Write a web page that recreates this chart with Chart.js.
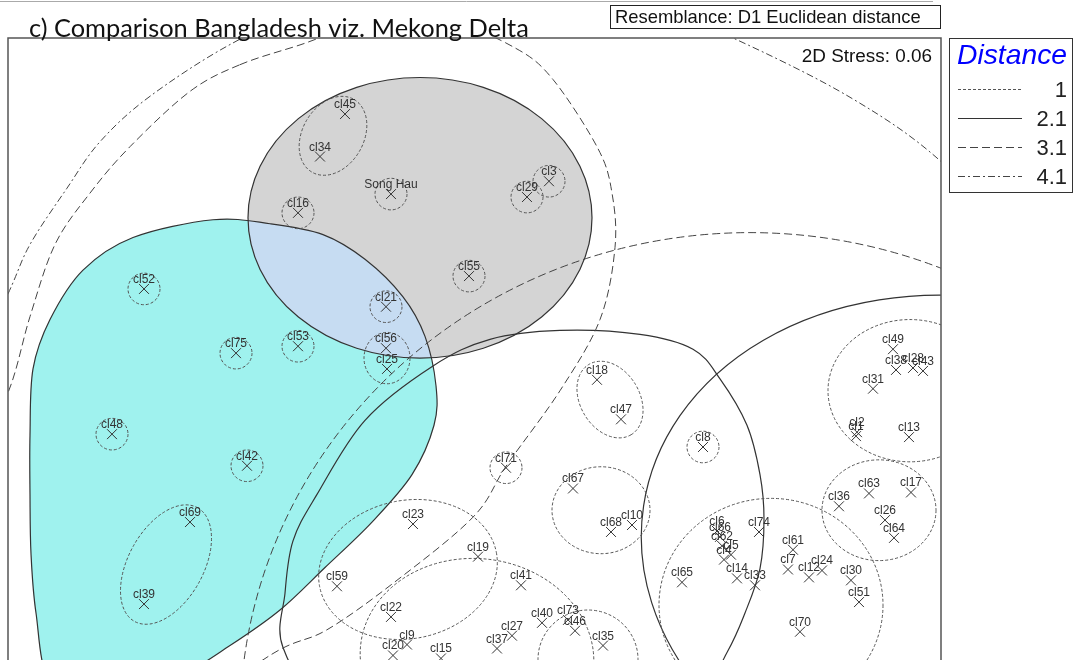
<!DOCTYPE html>
<html>
<head>
<meta charset="utf-8">
<title>Comparison Bangladesh viz. Mekong Delta</title>
<script src="https://cdn.jsdelivr.net/npm/chart.js@4.4.1/dist/chart.umd.min.js"></script>
<style>
  html, body { margin: 0; padding: 0; background: #fff; overflow: hidden; }
  #wrap { position: relative; width: 1075px; height: 660px; overflow: hidden; }
  canvas { display: block; }
</style>
</head>
<body>
<div id="wrap"><canvas id="mds" width="1075" height="700"></canvas></div>
<script>
// MDS ordination, 2D coordinates
const pointNames = [
  'cl45', 'cl34', 'Song Hau', 'cl16', 'cl29', 'cl3', 'cl55', 'cl52', 'cl21', 'cl75',
  'cl53', 'cl56', 'cl25', 'cl48', 'cl42', 'cl69', 'cl39', 'cl18', 'cl47', 'cl8',
  'cl71', 'cl67', 'cl68', 'cl10', 'cl23', 'cl19', 'cl59', 'cl41', 'cl22', 'cl9',
  'cl20', 'cl15', 'cl37', 'cl27', 'cl40', 'cl73', 'cl46', 'cl35', 'cl49', 'cl38',
  'cl28', 'cl43', 'cl31', 'cl2', 'cl1', 'cl13', 'cl63', 'cl17', 'cl36', 'cl26',
  'cl64', 'cl6', 'cl66', 'cl62', 'cl5', 'cl4', 'cl74', 'cl65', 'cl14', 'cl33',
  'cl61', 'cl7', 'cl12', 'cl24', 'cl30', 'cl51', 'cl70'
];
const pointX = [
  -1.30, -1.55, -0.84, -1.77, 0.52, 0.74, -0.06, -3.31, -0.89, -2.39,
  -1.77, -0.89, -0.88, -3.63, -2.28, -2.85, -3.31, 1.22, 1.46, 2.28,
  0.31, 0.98, 1.36, 1.57, -0.62, 0.03, -1.38, 0.46, -0.84, -0.68,
  -0.82, -0.34, 0.22, 0.37, 0.67, 0.93, 1.00, 1.28, 4.18, 4.21,
  4.38, 4.48, 3.98, 3.82, 3.81, 4.34, 3.94, 4.36, 3.64, 4.10,
  4.19, 2.42, 2.45, 2.47, 2.56, 2.49, 2.84, 2.07, 2.62, 2.80,
  3.18, 3.13, 3.34, 3.47, 3.76, 3.84, 3.25
];
const pointY = [
  2.55, 2.12, 1.74, 1.55, 1.71, 1.87, 0.91, 0.78, 0.60, 0.13,
  0.20, 0.18, -0.03, -0.69, -1.01, -1.58, -2.41, -0.14, -0.54, -0.82,
  -1.03, -1.24, -1.68, -1.61, -1.60, -1.93, -2.23, -2.22, -2.54, -2.82,
  -2.93, -2.96, -2.86, -2.73, -2.60, -2.57, -2.68, -2.83, 0.17, -0.04,
  -0.02, -0.05, -0.23, -0.67, -0.71, -0.72, -1.29, -1.28, -1.42, -1.56,
  -1.74, -1.67, -1.73, -1.82, -1.91, -1.96, -1.68, -2.19, -2.15, -2.22,
  -1.86, -2.06, -2.14, -2.07, -2.17, -2.39, -2.69
];

// cluster contours drawn as ellipses: level, centre, semi-axes, tilt (deg)
const contourLevel = [
  '2.1', '2.1', '3.1',
  '1', '1', '1', '1', '1', '1', '1', '1', '1', '1', '1', '1',
  '1', '1', '1', '1', '1', '1', '1', '1', '1', '1', '1', '1'
];
const contourX = [
  -0.55, 4.85, 2.75,
  -1.42, -0.84, -1.77, 0.52, 0.74, -0.06, -3.31, -0.89, -2.39, -1.77, -0.88, -3.63,
  -2.28, -3.09, 1.35, 2.28, 0.31, 1.26, -0.67, 0.02, 1.13, 4.35, 4.04, 2.96
];
const contourY = [
  1.50, -1.90, -3.60,
  2.33, 1.74, 1.55, 1.71, 1.87, 0.91, 0.78, 0.60, 0.13, 0.20, 0.08, -0.69,
  -1.01, -2.01, -0.34, -0.82, -1.03, -1.46, -2.06, -2.95, -2.97, -0.25, -1.46, -2.42
];
const contourRX = [
  1.72, 3.20, 5.10,
  0.42, 0.16, 0.16, 0.16, 0.16, 0.16, 0.16, 0.16, 0.16, 0.16, 0.23, 0.16,
  0.16, 0.65, 0.41, 0.16, 0.16, 0.49, 0.90, 1.17, 0.50, 0.82, 0.57, 1.12
];
const contourRY = [
  1.42, 2.60, 4.95,
  0.31, 0.16, 0.16, 0.16, 0.16, 0.16, 0.16, 0.16, 0.16, 0.16, 0.26, 0.16,
  0.16, 0.38, 0.30, 0.16, 0.16, 0.44, 0.70, 1.00, 0.50, 0.72, 0.51, 1.08
];
const contourTilt = [
  0, -8.6, 0,
  60, 0, 0, 0, 0, 0, 0, 0, 0, 0, 0, 0,
  0, 61, -59, 0, 0, 0, 11, -6, 0, 0, 0, 0
];

// irregular cluster hulls (MDS units)
const lowerBDHullX = [-2.62, -2.05, -1.52, -1.10, -0.72, -0.50, -0.39, -0.41, -0.63, -1.03, -1.50, -1.95,
  -2.45, -3.05, -3.75, -4.25, -4.39, -4.44, -4.45, -4.45, -4.42, -4.25, -3.92, -3.42];
const lowerBDHullY = [1.48, 1.44, 1.33, 1.08, 0.70, 0.30, -0.20, -0.60, -1.10, -1.58, -2.04, -2.47,
  -2.83, -3.20, -3.45, -3.20, -2.50, -1.90, -1.30, -0.70, -0.03, 0.47, 0.97, 1.30];

const midHullX = [-0.42, 0.15, 0.85, 1.65, 2.18, 2.45, 2.72, 2.85, 2.89, 2.85, 2.70, 2.52,
  2.15, 1.25, -0.25, -1.45, -1.92, -1.90, -1.82, -1.58, -1.10];
const midHullY = [0.00, 0.27, 0.36, 0.32, 0.17, -0.13, -0.60, -1.10, -1.55, -2.05, -2.50, -2.90,
  -3.50, -4.00, -4.00, -3.50, -2.85, -2.30, -1.77, -1.30, -0.55];

const bdHullX = [-2.35, -1.75, -1.05, -0.25, 0.40, 0.78, 1.23, 1.37, 1.40, 1.25, 0.85, 0.32,
  -0.02, -0.82, -1.48, -1.95, -2.75, -3.85, -4.85, -5.25, -5.05, -4.67, -4.45, -4.20,
  -3.85, -3.45, -2.85];
const bdHullY = [3.05, 3.25, 3.48, 3.48, 3.22, 2.90, 2.20, 1.75, 1.20, 0.47, -0.25, -1.00,
  -1.53, -2.20, -2.67, -2.87, -3.35, -3.65, -3.30, -2.20, -1.00, -0.27, 0.50, 1.23,
  1.75, 2.22, 2.78];

const allHullX = [-4.67, -4.45, -4.08, -3.75, -3.25, -2.42, -1.55, 0.05, 1.65, 2.58, 3.75, 4.66,
  5.55, 6.05, 6.05, 4.75, 0.25, -4.25, -5.35, -5.15];
const allHullY = [0.73, 1.23, 1.80, 2.27, 2.73, 3.27, 3.65, 3.85, 3.70, 3.32, 2.72, 2.07,
  1.10, -0.50, -2.80, -4.30, -4.80, -4.30, -2.30, -0.30];

const legendLevels = ['1', '2.1', '3.1', '4.1'];

const LEVEL_STYLE = {
  '1':   { dash: [3, 2], color: '#555', width: 1 },
  '2.1': { dash: [], color: '#333', width: 1.2 },
  '3.1': { dash: [8, 4], color: '#444', width: 1 },
  '4.1': { dash: [7, 3, 2, 3], color: '#444', width: 1 },
};
const FILL_GREY = '#d4d4d4';
const FILL_CYAN = '#9ff2ee';
const FILL_OVERLAP = '#c6dcf2';
const SANS = '"Liberation Sans", Arial, sans-serif';

function ellipsePath(ctx, chart, i) {
  const xs = chart.scales.x, ys = chart.scales.y;
  const cx = xs.getPixelForValue(contourX[i]);
  const cy = ys.getPixelForValue(contourY[i]);
  const rx = Math.abs(xs.getPixelForValue(contourX[i] + contourRX[i]) - cx);
  const ry = Math.abs(ys.getPixelForValue(contourY[i] + contourRY[i]) - cy);
  ctx.beginPath();
  ctx.ellipse(cx, cy, rx, ry, -contourTilt[i] * Math.PI / 180, 0, Math.PI * 2);
}

// closed Catmull-Rom curve through hull vertices
function hullPath(ctx, chart, hx, hy) {
  const xs = chart.scales.x, ys = chart.scales.y;
  const p = hx.map((x, i) => [xs.getPixelForValue(x), ys.getPixelForValue(hy[i])]);
  const n = p.length;
  ctx.beginPath();
  ctx.moveTo(p[0][0], p[0][1]);
  for (let i = 0; i < n; i++) {
    const p0 = p[(i - 1 + n) % n], p1 = p[i], p2 = p[(i + 1) % n], p3 = p[(i + 2) % n];
    ctx.bezierCurveTo(
      p1[0] + (p2[0] - p0[0]) / 6, p1[1] + (p2[1] - p0[1]) / 6,
      p2[0] - (p3[0] - p1[0]) / 6, p2[1] - (p3[1] - p1[1]) / 6,
      p2[0], p2[1]);
  }
  ctx.closePath();
}

function fitFont(ctx, text, family, style, width) {
  ctx.font = `${style} 100px ${family}`;
  const size = 100 * width / ctx.measureText(text).width;
  return `${style} ${size.toFixed(1)}px ${family}`;
}

function setLine(ctx, level) {
  const s = LEVEL_STYLE[level];
  ctx.setLineDash(s.dash);
  ctx.strokeStyle = s.color;
  ctx.lineWidth = s.width;
}

const contourPlugin = {
  id: 'contours',
  beforeDatasetsDraw(chart) {
    const ctx = chart.ctx;
    const a = chart.chartArea;
    ctx.save();
    ctx.beginPath();
    ctx.rect(a.left, a.top, a.right - a.left, a.bottom - a.top);
    ctx.clip();

    // shaded Bangladesh groups and their overlap
    hullPath(ctx, chart, lowerBDHullX, lowerBDHullY);
    ctx.fillStyle = FILL_CYAN;
    ctx.fill();
    ellipsePath(ctx, chart, 0);
    ctx.fillStyle = FILL_GREY;
    ctx.fill();
    ctx.save();
    hullPath(ctx, chart, lowerBDHullX, lowerBDHullY);
    ctx.clip();
    ellipsePath(ctx, chart, 0);
    ctx.fillStyle = FILL_OVERLAP;
    ctx.fill();
    ctx.restore();

    const hulls = [
      ['2.1', lowerBDHullX, lowerBDHullY],
      ['2.1', midHullX, midHullY],
      ['3.1', bdHullX, bdHullY],
      ['4.1', allHullX, allHullY],
    ];
    hulls.forEach(([lvl, hx, hy]) => {
      setLine(ctx, lvl);
      hullPath(ctx, chart, hx, hy);
      ctx.stroke();
    });
    contourLevel.forEach((lvl, i) => {
      setLine(ctx, lvl);
      ellipsePath(ctx, chart, i);
      ctx.stroke();
    });
    ctx.restore();
  },
  afterDatasetsDraw(chart) {
    const ctx = chart.ctx;
    const meta = chart.getDatasetMeta(0);
    ctx.save();
    ctx.font = `12px ${SANS}`;
    ctx.fillStyle = '#333';
    ctx.textAlign = 'center';
    meta.data.forEach((pt, i) => {
      ctx.fillText(pointNames[i], pt.x, pt.y - 6);
    });
    ctx.restore();
  },
  afterDraw(chart) {
    const ctx = chart.ctx;
    const a = chart.chartArea;
    ctx.save();
    ctx.setLineDash([]);

    // faint rule along the top edge
    ctx.strokeStyle = '#aaa';
    ctx.lineWidth = 1;
    ctx.beginPath();
    ctx.moveTo(0, 1.5);
    ctx.lineTo(933, 1.5);
    ctx.stroke();

    // plot frame
    ctx.strokeStyle = '#555';
    ctx.lineWidth = 1.5;
    ctx.beginPath();
    ctx.moveTo(a.left, a.bottom + 10);
    ctx.lineTo(a.left, a.top);
    ctx.lineTo(a.right, a.top);
    ctx.lineTo(a.right, a.bottom + 10);
    ctx.stroke();

    // title
    const title = 'c) Comparison Bangladesh viz. Mekong Delta';
    ctx.font = fitFont(ctx, title, 'Lato, "Open Sans", sans-serif', '', 500);
    ctx.fillStyle = '#111';
    ctx.textAlign = 'left';
    ctx.fillText(title, 29, 37);

    // resemblance box
    ctx.lineWidth = 1;
    ctx.strokeStyle = '#222';
    ctx.strokeRect(610.5, 5.5, 330, 23);
    const res = 'Resemblance: D1 Euclidean distance';
    ctx.font = fitFont(ctx, res, SANS, '', 306);
    ctx.fillStyle = '#111';
    ctx.fillText(res, 615, 23);

    // stress
    const stress = '2D Stress: 0.06';
    ctx.font = fitFont(ctx, stress, SANS, '', 130);
    ctx.textAlign = 'right';
    ctx.fillText(stress, 932, 62);

    // legend
    ctx.strokeStyle = '#333';
    ctx.strokeRect(949.5, 38.5, 123, 154);
    ctx.font = fitFont(ctx, 'Distance', SANS, 'italic', 110);
    ctx.fillStyle = '#0000ff';
    ctx.textAlign = 'left';
    ctx.fillText('Distance', 957, 64);
    const rowY = [89, 118, 147, 176];
    ctx.font = `22px ${SANS}`;
    ctx.fillStyle = '#222';
    ctx.textAlign = 'right';
    legendLevels.forEach((lvl, i) => {
      setLine(ctx, lvl);
      ctx.beginPath();
      ctx.moveTo(958, rowY[i] + 0.5);
      ctx.lineTo(1022, rowY[i] + 0.5);
      ctx.stroke();
      ctx.fillText(lvl, 1067, rowY[i] + 8);
    });
    ctx.restore();
  }
};

new Chart(document.getElementById('mds'), {
  type: 'scatter',
  data: {
    datasets: [{
      label: 'Sites',
      data: pointX.map((x, i) => ({ x, y: pointY[i] })),
      pointStyle: 'crossRot',
      pointRadius: 7,
      borderColor: '#333',
      backgroundColor: 'rgba(0,0,0,0)',
      borderWidth: 1,
    }],
  },
  options: {
    responsive: false,
    animation: false,
    events: [],
    layout: { padding: { left: 8, top: 38, right: 134, bottom: 0 } },
    plugins: { legend: { display: false }, tooltip: { enabled: false } },
    scales: {
      x: { type: 'linear', min: -4.67, max: 4.66, display: false },
      y: { type: 'linear', min: -3.30, max: 3.32, display: false },
    },
  },
  plugins: [contourPlugin],
});
</script>
</body>
</html>
